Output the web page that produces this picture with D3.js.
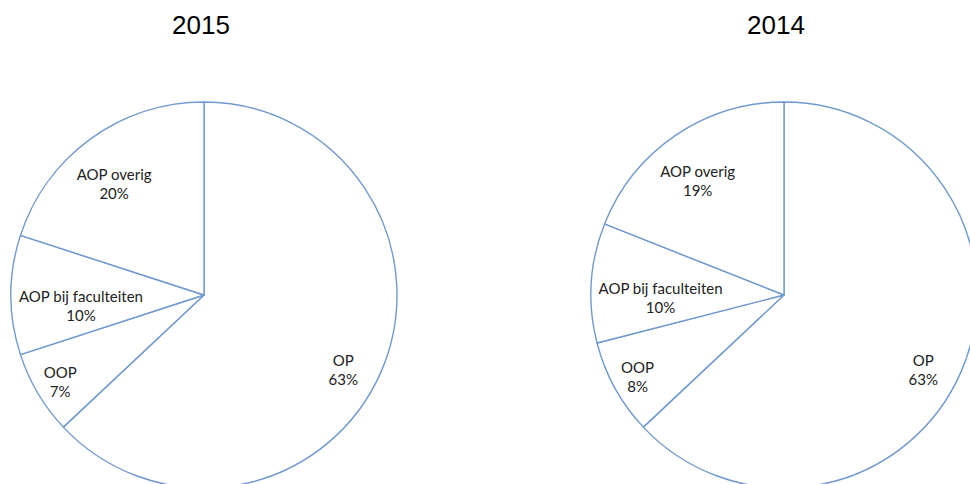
<!DOCTYPE html>
<html lang="en">
<head>
    <meta charset="UTF-8">
    <title>2015 / 2014</title>
    <script src="https://d3js.org/d3.v7.min.js"></script>
    <style>
        body { margin: 0; background: #fff; }
        svg { display: block; }
        .title { font-family: "Liberation Sans", Arial, sans-serif; font-size: 26px; fill: #000; }
        .lbl { font-family: Lato, "Open Sans", sans-serif; font-size: 15px; fill: #222; }
    </style>
</head>
<body>
    <svg id="chart"></svg>
    <script>
        // data
        const categories = ["OP", "OOP", "AOP bij faculteiten", "AOP overig"];
        const years = ["2015", "2014"];
        const values2015 = [63, 7, 10, 20];
        const values2014 = [63, 8, 10, 19];

        const width = 970, height = 484;
        const svg = d3.select("#chart").attr("width", width).attr("height", height);

        const radius = 193;
        // where each pie sits and where its title goes
        const pies = [
            { year: years[0], values: values2015, cx: 204, cy: 295, tx: 201 },
            { year: years[1], values: values2014, cx: 784, cy: 295, tx: 776 }
        ];
        // label distance (fraction of radius) and angle nudge (degrees) per slice
        const labelPlace = {
            "OP": [0.82, 5],
            "OOP": [0.87, -0.5],
            "AOP bij faculteiten": [0.64, -5],
            "AOP overig": [0.74, -3]
        };

        const pie = d3.pie().sort(null).value(d => d.value);
        const arc = d3.arc().innerRadius(0).outerRadius(radius);

        pies.forEach(p => {
            const rows = categories.map((c, i) => ({ name: c, value: p.values[i] }));
            const total = d3.sum(rows, d => d.value);
            const g = svg.append("g").attr("transform", `translate(${p.cx},${p.cy})`);

            g.selectAll("path").data(pie(rows)).join("path")
                .attr("d", arc)
                .attr("fill", "#fff")
                .attr("stroke", "#7099d0")
                .attr("stroke-width", 1.4)
                .attr("stroke-linejoin", "round");

            const lbl = g.selectAll("text.lbl").data(pie(rows)).join("text")
                .attr("class", "lbl")
                .attr("text-anchor", "middle")
                .attr("transform", d => {
                    const [k, nudge] = labelPlace[d.data.name];
                    const a = (d.startAngle + d.endAngle) / 2 + nudge * Math.PI / 180;
                    const r = radius * k;
                    return `translate(${r * Math.sin(a)},${-r * Math.cos(a)})`;
                });
            lbl.append("tspan").attr("x", 0).attr("y", -4).text(d => d.data.name);
            lbl.append("tspan").attr("x", 0).attr("y", 15)
                .text(d => Math.round(d.value / total * 100) + "%");

            svg.append("text").attr("class", "title")
                .attr("x", p.tx).attr("y", 34)
                .attr("text-anchor", "middle")
                .text(p.year);
        });
    </script>
</body>
</html>
